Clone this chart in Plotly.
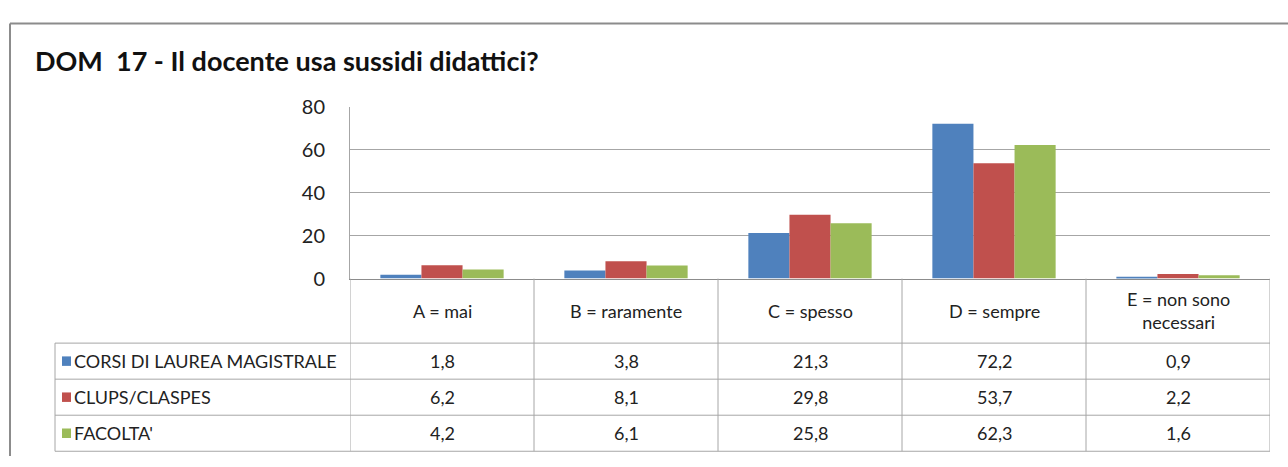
import plotly.graph_objects as go

# data
categories = ["A = mai", "B = raramente", "C = spesso", "D = sempre", "E = non sono<br>necessari"]
series_names = ["CORSI DI LAUREA MAGISTRALE", "CLUPS/CLASPES", "FACOLTA'"]
corsi = [1.8, 3.8, 21.3, 72.2, 0.9]
clups = [6.2, 8.1, 29.8, 53.7, 2.2]
facolta = [4.2, 6.1, 25.8, 62.3, 1.6]
y_ticks = [0, 20, 40, 60, 80]

colors = ['#4F81BD', '#C0504D', '#9BBB59']
W, H = 1288, 467
FONT = "Lato"
GRID = '#a6a6a6'


def px(x):
    return x / W


def py(y):
    return 1 - y / H


fig = go.Figure()
for name, vals, col in zip(series_names, [corsi, clups, facolta], colors):
    fig.add_trace(go.Bar(
        x=list(range(len(categories))),
        y=vals,
        name=name,
        marker_color=col,
        marker_line_width=0,
        showlegend=False,
    ))

shapes = []
annotations = []

# outer chart frame
shapes.append(dict(type='line', xref='paper', yref='paper', x0=px(10), x1=px(10), y0=py(11), y1=0,
                   line=dict(color='#8c8c8c', width=2)))
shapes.append(dict(type='line', xref='paper', yref='paper', x0=px(10), x1=1, y0=py(11), y1=py(11),
                   line=dict(color='#8c8c8c', width=2)))

# data table grid
row_y = [348, 386, 424, 462]
for i in range(len(categories) + 1):
    shapes.append(dict(type='line', xref='x', yref='paper', x0=i - 0.5, x1=i - 0.5,
                       y0=py(280), y1=py(462), line=dict(color=GRID, width=1)))
for yy in row_y:
    shapes.append(dict(type='line', xref='paper', yref='paper', x0=px(55), x1=px(1270),
                       y0=py(yy), y1=py(yy), line=dict(color=GRID, width=1)))
shapes.append(dict(type='line', xref='paper', yref='paper', x0=px(55), x1=px(55),
                   y0=py(348), y1=py(462), line=dict(color=GRID, width=1)))

txt = dict(showarrow=False, yanchor='middle', font=dict(family=FONT, size=18, color='#222'))

# header labels
for i, cat in enumerate(categories):
    annotations.append(dict(x=i, y=py(314), xref='x', yref='paper', text=cat, xanchor='center', **txt))

# rows
for r, (name, vals, col) in enumerate(zip(series_names, [corsi, clups, facolta], colors)):
    yc = (row_y[r] + row_y[r + 1]) / 2
    shapes.append(dict(type='rect', xref='paper', yref='paper', x0=px(62), x1=px(71),
                       y0=py(yc + 5), y1=py(yc - 5), fillcolor=col, line=dict(width=0)))
    annotations.append(dict(x=px(72), y=py(yc), xref='paper', yref='paper', text=name,
                            xanchor='left', **txt))
    for i, v in enumerate(vals):
        annotations.append(dict(x=i, y=py(yc), xref='x', yref='paper',
                                text=f"{v:.1f}".replace('.', ','), xanchor='center', **txt))

# title
annotations.append(dict(x=px(33), y=py(50), xref='paper', yref='paper',
                        text="<b>DOM  17 - Il docente usa sussidi didattici?</b>",
                        xanchor='left', yanchor='middle', showarrow=False,
                        font=dict(family=FONT, size=27, color='#111')))

fig.update_layout(
    width=W, height=H,
    margin=dict(l=0, r=0, t=0, b=0),
    paper_bgcolor='white', plot_bgcolor='white',
    barmode='group', bargap=0.33, bargroupgap=0,
    shapes=shapes, annotations=annotations,
    xaxis=dict(domain=[px(350), px(1270)], range=[-0.5, len(categories) - 0.5],
               showticklabels=False, showgrid=False, zeroline=False,
               showline=True, linecolor='#8c8c8c', linewidth=1),
    yaxis=dict(domain=[py(280), py(99)], range=[0, 80], tickvals=y_ticks,
               showgrid=True, gridcolor=GRID, gridwidth=1, zeroline=False,
               showline=True, linecolor=GRID, linewidth=1,
               ticklabelstandoff=20,
               tickfont=dict(family=FONT, size=20, color='#222')),
)

fig.write_html("out.html", config={'displayModeBar': False},
               post_script="document.body.style.margin='0';document.body.style.overflow='hidden';")
